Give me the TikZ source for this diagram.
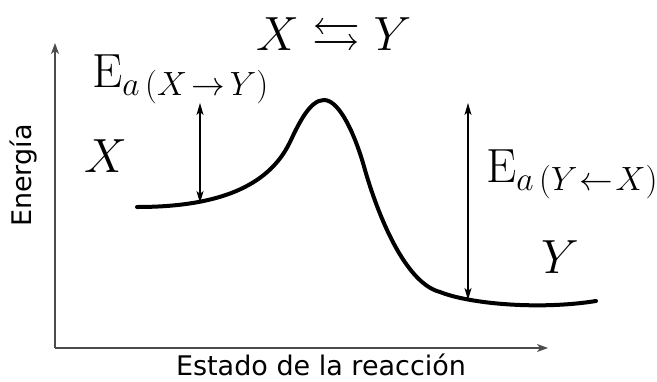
\documentclass[tikz,border=0pt]{standalone}
\usepackage{fix-cm}
\usepackage{amssymb}
\usepackage{fontspec}
\newfontfamily\labfont{DejaVu Sans}
\usetikzlibrary{arrows.meta}
\tikzset{
  axis/.style={draw=black!70, line width=1.3pt, -{Stealth[length=11pt,width=8pt,inset=3pt]}},
  gap/.style={draw=black, line width=1.1pt, {Stealth[length=12pt,width=7pt,inset=3pt]}-{Stealth[length=12pt,width=7pt,inset=3pt]}},
  curve/.style={draw=black, line width=4pt, line cap=round},
  big/.style={inner sep=0pt, font=\fontsize{48}{56}\selectfont},
  lab/.style={inner sep=0pt, font=\labfont\fontsize{27}{32}\selectfont}
}
\newcommand\arsp{\mskip2.5mu}
\newcommand\arspb{\mskip1.2mu}
\begin{document}
\begin{tikzpicture}[x=1pt,y=-1pt]
\useasboundingbox (0,0) rectangle (657,381);
% axes
\coordinate (o) at (55,348);
\coordinate (ytip) at (55,43);
\coordinate (xtip) at (548,348);
\draw[axis] (o) -- (ytip);
\draw[axis] (o) -- (xtip);
% curve
\coordinate (c0) at (137,207);
\coordinate (c1) at (290,142);
\coordinate (c2) at (324,100);
\coordinate (c3) at (365,170);
\coordinate (c4) at (440,292);
\coordinate (c5) at (596,301);
\draw[curve] (c0) .. controls (215,207) and (268,188) .. (c1)
  .. controls (299,123) and (310,100) .. (c2)
  .. controls (340,100) and (356,137) .. (c3)
  .. controls (378,215) and (405,283) .. (c4)
  .. controls (470,304) and (540,310) .. (c5);
% energy gaps
\coordinate (la) at (200,103);
\coordinate (lb) at (200,203);
\coordinate (ra) at (468,103);
\coordinate (rb) at (468,300);
\draw[gap] (la) -- (lb);
\draw[gap] (ra) -- (rb);
% labels
\node[big, anchor=base west] (title) at (256,50) {$X \leftrightarrows Y$};
\node[big, anchor=base west] (eaxy) at (92,87) {$\mathrm{E}_{a\,(X\arsp\rightarrow\arsp Y)}$};
\node[big, anchor=base west] (x) at (84,172) {$X$};
\node[big, anchor=base west] (eayx) at (486,182) {$\mathrm{E}_{a\,(Y\arspb\leftarrow\arspb X)}$};
\node[big, anchor=base west] (y) at (541,273) {$Y$};
\node[lab, rotate=90, anchor=base] (en) at (31,175.5) {Energía};
\node[lab, anchor=base] (est) at (321,375) {Estado de la reacción};
\end{tikzpicture}
\end{document}
